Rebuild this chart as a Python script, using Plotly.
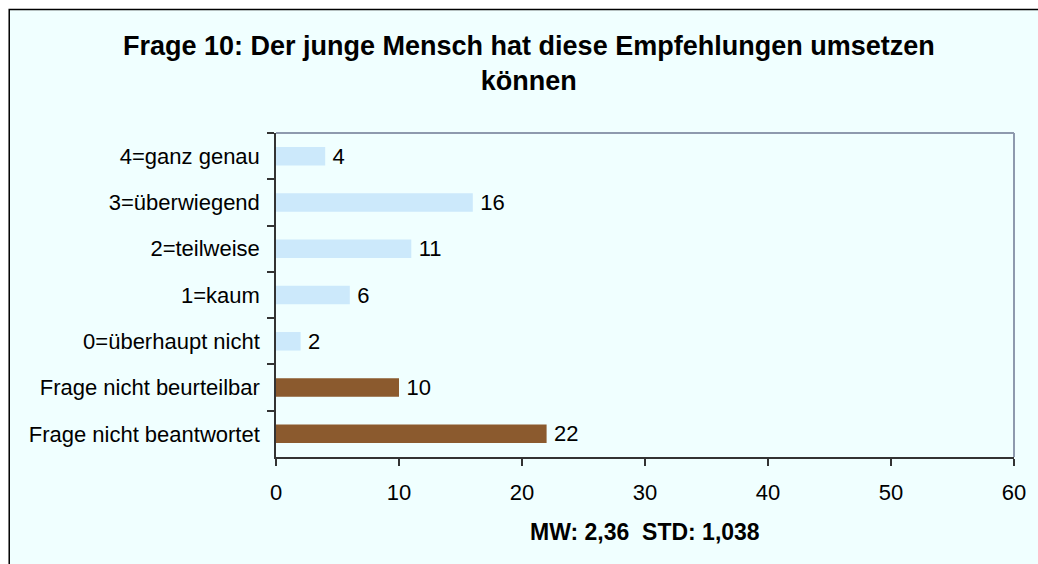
import plotly.graph_objects as go

categories = ["4=ganz genau", "3=überwiegend", "2=teilweise", "1=kaum",
              "0=überhaupt nicht", "Frage nicht beurteilbar",
              "Frage nicht beantwortet"]
values = [4, 16, 11, 6, 2, 10, 22]
bar_colors = ["#CCE9FB", "#CCE9FB", "#CCE9FB", "#CCE9FB", "#CCE9FB", "#8B5A2E", "#8B5A2E"]
x_ticks = [0, 10, 20, 30, 40, 50, 60]
title_text = "Frage 10: Der junge Mensch hat diese Empfehlungen umsetzen<br>können"
stats_text = "MW: 2,36\u00a0 STD: 1,038"

FONT = "Liberation Sans, Arial, sans-serif"

W, H = 1038, 564
L, R, T, B = 276, 22, 133, 107
PW, PH = W - L - R, H - T - B

def px(x):
    return (x - L) / PW

def py(y):
    return (H - B - y) / PH

fig = go.Figure(go.Bar(
    x=values, y=categories, orientation="h",
    marker=dict(color=bar_colors, line=dict(width=0)),
    text=["\u2009" + str(v) for v in values], textposition="outside", cliponaxis=False,
    constraintext="none",
    textfont=dict(family=FONT, size=22, color="#000000"),
    hoverinfo="skip",
))

fig.update_layout(
    width=W, height=H,
    margin=dict(l=L, r=R, t=T, b=B, pad=0),
    paper_bgcolor="#FFFFFF",
    plot_bgcolor="#F0FFFF",
    bargap=0.6,
    showlegend=False,
    font=dict(family=FONT, color="#000000"),
    xaxis=dict(
        range=[0, 60], tickvals=x_ticks, ticktext=[str(v) for v in x_ticks],
        showgrid=False, zeroline=False,
        showline=True, linecolor="#333333", linewidth=1.5,
        ticks="outside", ticklen=7, tickcolor="#333333", tickwidth=1.5,
        tickfont=dict(family=FONT, size=22, color="#000000"),
        ticklabelstandoff=8,
    ),
    yaxis=dict(
        categoryorder="array", categoryarray=categories, autorange="reversed",
        showgrid=False, zeroline=False,
        showline=True, linecolor="#333333", linewidth=1.5,
        ticks="outside", ticklen=7, tickcolor="#333333", tickwidth=1.5,
        tickson="boundaries",
        tickfont=dict(family=FONT, size=22, color="#000000"),
        ticklabelstandoff=10,
    ),
    shapes=[
        dict(type="rect", xref="paper", yref="paper", layer="below",
             x0=px(8.5), x1=px(1045), y0=py(575), y1=py(9.5),
             fillcolor="#F0FFFF", line=dict(color="#000000", width=1.5)),
        dict(type="line", xref="paper", yref="paper", x0=0, x1=1, y0=1, y1=1,
             line=dict(color="#8E9AAE", width=2)),
        dict(type="line", xref="paper", yref="paper", x0=1, x1=1, y0=0, y1=1,
             line=dict(color="#8E9AAE", width=2)),
    ],
    annotations=[
        dict(text="<b>" + title_text + "</b>", xref="paper", yref="paper",
             x=px(530), y=py(64), xanchor="center", yanchor="middle",
             showarrow=False, font=dict(family=FONT, size=27, color="#000000")),
        dict(text="<b>" + stats_text + "</b>", xref="paper", yref="paper",
             x=px(645.5), y=py(532), xanchor="center", yanchor="middle",
             showarrow=False, font=dict(family=FONT, size=23, color="#000000")),
    ],
)

fig.write_html("out.html",
               config={"displayModeBar": False},
               post_script="document.body.style.margin='0';document.body.style.overflow='hidden';")
